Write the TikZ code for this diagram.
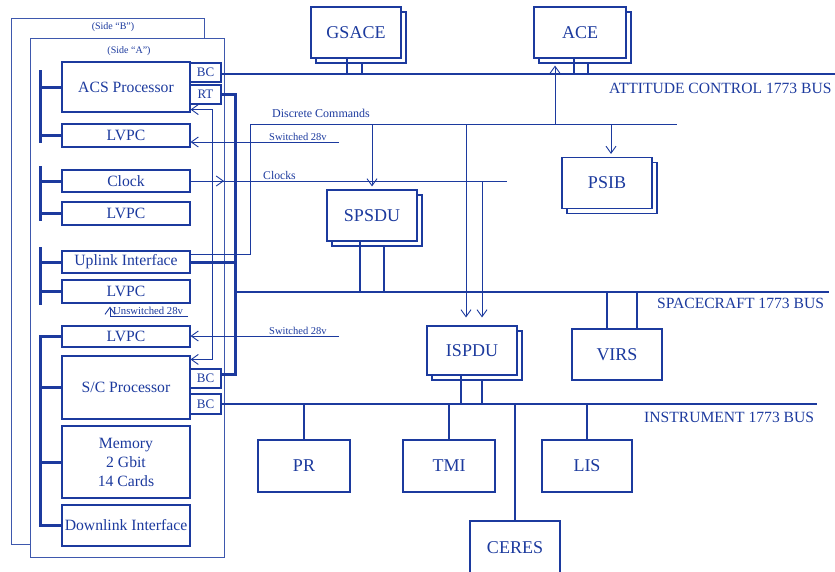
\documentclass[tikz,border=0pt]{standalone}
\usepackage{fontspec}
\setmainfont{Liberation Serif}
\usetikzlibrary{arrows.meta,shadows}
\definecolor{dblue}{RGB}{28,58,158}
\begin{document}
\begin{tikzpicture}[x=1pt,y=-1pt,
  box/.style={draw=dblue, line width=1.1pt, fill=white, inner sep=0pt, text=dblue, align=center, font=\fontsize{15.7}{19}\selectfont},
  lbox/.style={box, minimum width=128pt},
  bcbox/.style={box, font=\fontsize{13}{15}\selectfont, minimum width=31pt, minimum height=19pt},
  bigbox/.style={box, font=\fontsize{18}{21}\selectfont, minimum width=90pt, minimum height=51pt},
  shbox/.style={bigbox, copy shadow={shadow xshift=5pt, shadow yshift=-5pt}},
  side/.style={draw=dblue!85, line width=1pt, fill=white, inner sep=0pt},
  lbl/.style={text=dblue, inner sep=0pt, anchor=west},
  sig/.style={draw=dblue, line width=0.9pt},
  bus/.style={draw=dblue, line width=2pt},
  pbus/.style={draw=dblue, line width=3pt},
  tip/.style={-{Straight Barb[length=7pt,width=10pt]}},
  tips/.style={{Straight Barb[length=7pt,width=10pt]}-{Straight Barb[length=7pt,width=10pt]}},
]
\useasboundingbox (0,0) rectangle (835,571);
% side boxes
\node[side, minimum width=193pt, minimum height=526pt] (sideB) at (107.5,281) {};
\node[lbl, anchor=center, font=\fontsize{10}{12}\selectfont] (sideBl) at (113,27) {(Side “B”)};
\node[side, minimum width=194pt, minimum height=519pt] (sideA) at (127,297.5) {};
\node[lbl, anchor=center, font=\fontsize{10}{12}\selectfont] (sideAl) at (129,51) {(Side “A”)};
% left boxes
\node[lbox, minimum height=50pt] (acs) at (126,87) {ACS Processor};
\node[bcbox] (acsbc) at (205.5,72.5) {BC};
\node[bcbox] (acsrt) at (205.5,94.5) {RT};
\node[lbox, minimum height=23pt] (lvpc1) at (126,135.5) {LVPC};
\node[lbox, minimum height=22pt] (clock) at (126,181) {Clock};
\node[lbox, minimum height=23pt] (lvpc2) at (126,213.5) {LVPC};
\node[lbox, minimum height=22pt] (uplink) at (126,262) {Uplink Interface};
\node[lbox, minimum height=23pt] (lvpc3) at (126,291.5) {LVPC};
\node[lbox, minimum height=21pt] (lvpc4) at (126,336.5) {LVPC};
\node[lbox, minimum height=63pt] (scp) at (126,387.5) {S/C Processor};
\node[bcbox] (scbc1) at (205.5,378.5) {BC};
\node[bcbox, minimum height=20pt] (scbc2) at (205.5,404) {BC};
\node[lbox, minimum height=72pt] (mem) at (126,462) {Memory\\2 Gbit\\14 Cards};
\node[lbox, minimum height=41pt] (down) at (126,525.5) {Downlink Interface};
% right boxes
\node[shbox] (gsace) at (356,32.5) {GSACE};
\node[shbox, minimum width=92pt] (ace) at (580,32.5) {ACE};
\node[shbox] (psib) at (607,183) {PSIB};
\node[shbox] (spsdu) at (372,215.5) {SPSDU};
\node[shbox, minimum height=49pt] (ispdu) at (472,350.5) {ISPDU};
\node[bigbox] (virs) at (617,354.5) {VIRS};
\node[bigbox, minimum width=92pt, minimum height=52pt] (pr) at (304,466) {PR};
\node[bigbox, minimum width=92pt, minimum height=52pt] (tmi) at (449,466) {TMI};
\node[bigbox, minimum width=90pt, minimum height=52pt] (lis) at (587,466) {LIS};
\node[bigbox, minimum height=54pt] (ceres) at (515,548) {CERES};
% bus coordinates
\coordinate (attR) at (835,74);
\coordinate (scR) at (829,292);
\coordinate (inR) at (817,404);
\coordinate (rtx) at (235,200);
% buses
\draw[bus] (acsbc.east |- attR) -- (attR);
\coordinate (rtend) at ([yshift=4pt]scbc1.east);
\draw[pbus] (acsrt.east) -| (rtx) |- (rtend);
\draw[pbus] (uplink.east) -- (uplink.east -| rtx);
\draw[bus] (rtx |- scR) -- (scR);
\draw[bus] (scbc2.east) -- (inR);
% connectors to buses
\coordinate (c1) at ([xshift=-9pt]gsace.south);
\coordinate (c2) at ([xshift=6pt,yshift=-5pt]gsace.south);
\draw[bus] (c1) -- (c1 |- attR);
\draw[bus] (c2) -- (c2 |- attR);
\coordinate (c3) at ([xshift=-6pt]ace.south);
\coordinate (c4) at ([xshift=8pt,yshift=-5pt]ace.south);
\draw[bus] (c3) -- (c3 |- attR);
\draw[bus] (c4) -- (c4 |- attR);
\coordinate (c5) at ([xshift=-12pt]spsdu.south);
\coordinate (c6) at ([xshift=12pt,yshift=-5pt]spsdu.south);
\draw[bus] (c5) -- (c5 |- scR);
\draw[bus] (c6) -- (c6 |- scR);
\coordinate (c7) at ([xshift=-10pt]virs.north);
\coordinate (c8) at ([xshift=20pt]virs.north);
\draw[bus] (c7) -- (c7 |- scR);
\draw[bus] (c8) -- (c8 |- scR);
\coordinate (c9) at ([xshift=-11pt]ispdu.south);
\coordinate (c10) at ([xshift=10pt,yshift=-5pt]ispdu.south);
\draw[bus] (c9) -- (c9 |- inR);
\draw[bus] (c10) -- (c10 |- inR);
\draw[bus] (pr.north) -- (pr.north |- inR);
\draw[bus] (tmi.north) -- (tmi.north |- inR);
\draw[bus] (lis.north) -- (lis.north |- inR);
\draw[bus] (ceres.north) -- (ceres.north |- inR);
% power groups
\coordinate (g1t) at (40,70); \coordinate (g1b) at (40,143);
\draw[pbus] (g1t) -- (g1b);
\draw[pbus] (acs.west) -- (acs.west -| g1t);
\draw[pbus] (lvpc1.west) -- (lvpc1.west -| g1t);
\coordinate (g2t) at (40,166); \coordinate (g2b) at (40,221);
\draw[pbus] (g2t) -- (g2b);
\draw[pbus] (clock.west) -- (clock.west -| g2t);
\draw[pbus] (lvpc2.west) -- (lvpc2.west -| g2t);
\coordinate (g3t) at (40,247); \coordinate (g3b) at (40,305);
\draw[pbus] (g3t) -- (g3b);
\draw[pbus] (uplink.west) -- (uplink.west -| g3t);
\draw[pbus] (lvpc3.west) -- (lvpc3.west -| g3t);
\coordinate (g4b) at (down.west -| g1t);
\draw[pbus] (lvpc4.west) -| (g4b) -- (down.west);
\draw[pbus] (scp.west) -- (scp.west -| g4b);
\draw[pbus] (mem.west) -- (mem.west -| g4b);
% processor cross link
\coordinate (xl) at (212,0);
\coordinate (a1) at ([yshift=3pt]acs.south east);
\coordinate (a2) at ([yshift=-4pt]scp.north east);
\draw[sig, tips] (a1) -- (a1 -| xl) -- (a2 -| xl) -- (a2);
% switched 28v
\coordinate (sw1) at (339,142);
\draw[sig, tip] (sw1) -- (sw1 -| lvpc1.east);
\coordinate (sw2) at (339,336);
\draw[sig, tip] (sw2) -- (sw2 -| lvpc4.east);
% clocks
\coordinate (clkR) at (507,181);
\coordinate (ck) at (224,0);
\draw[sig] (clock.east) -- (clkR);
\draw[sig, tip] (clock.east) -- (clock.east -| ck);
% unswitched
\coordinate (us1) at (188,316); \coordinate (us2) at (110,316);
\draw[sig, tip, shorten >=3pt] (us1) -- (us2) -- (us2 |- lvpc3.south);
% discrete commands
\coordinate (dc0) at ([yshift=-4pt]uplink.north east);
\coordinate (dcx) at (250,124);
\coordinate (dcR) at (677,124);
\draw[sig] (dc0) -- (dc0 -| dcx) -- (dcx) -- (dcR);
\draw[sig, tip, shorten >=3pt] (spsdu.north |- dcR) -- (spsdu.north);
\coordinate (ia) at ([xshift=-6pt]ispdu.north);
\draw[sig, tip, shorten >=8pt] (ia |- dcR) -- (ia);
\coordinate (ib) at ([xshift=10pt]ispdu.north);
\draw[sig, tip, shorten >=8pt] (ib |- clkR) -- (ib);
\coordinate (aa) at ([xshift=-25pt]ace.south);
\draw[sig, tip, shorten >=7pt] (aa |- dcR) -- (aa);
\coordinate (pa) at ([xshift=4pt]psib.north);
\draw[sig, tip, shorten >=3pt] (pa |- dcR) -- (pa);
% labels
\node[lbl, font=\fontsize{12}{14}\selectfont] (dcl) at (272,113) {Discrete Commands};
\node[lbl, font=\fontsize{10.5}{12}\selectfont] (sw1l) at (269,137) {Switched 28v};
\node[lbl, font=\fontsize{11.7}{14}\selectfont] (ckl) at (263,175) {Clocks};
\node[lbl, font=\fontsize{10.5}{12}\selectfont] (sw2l) at (269,331) {Switched 28v};
\node[lbl, font=\fontsize{10.7}{12}\selectfont] (usl) at (113,311) {Unswitched 28v};
\node[lbl, font=\fontsize{15.6}{18}\selectfont] (attl) at (609,88) {ATTITUDE CONTROL 1773 BUS};
\node[lbl, font=\fontsize{15.6}{18}\selectfont] (scl) at (657,303) {SPACECRAFT 1773 BUS};
\node[lbl, font=\fontsize{15.6}{18}\selectfont] (inl) at (644,417) {INSTRUMENT 1773 BUS};
\end{tikzpicture}
\end{document}
